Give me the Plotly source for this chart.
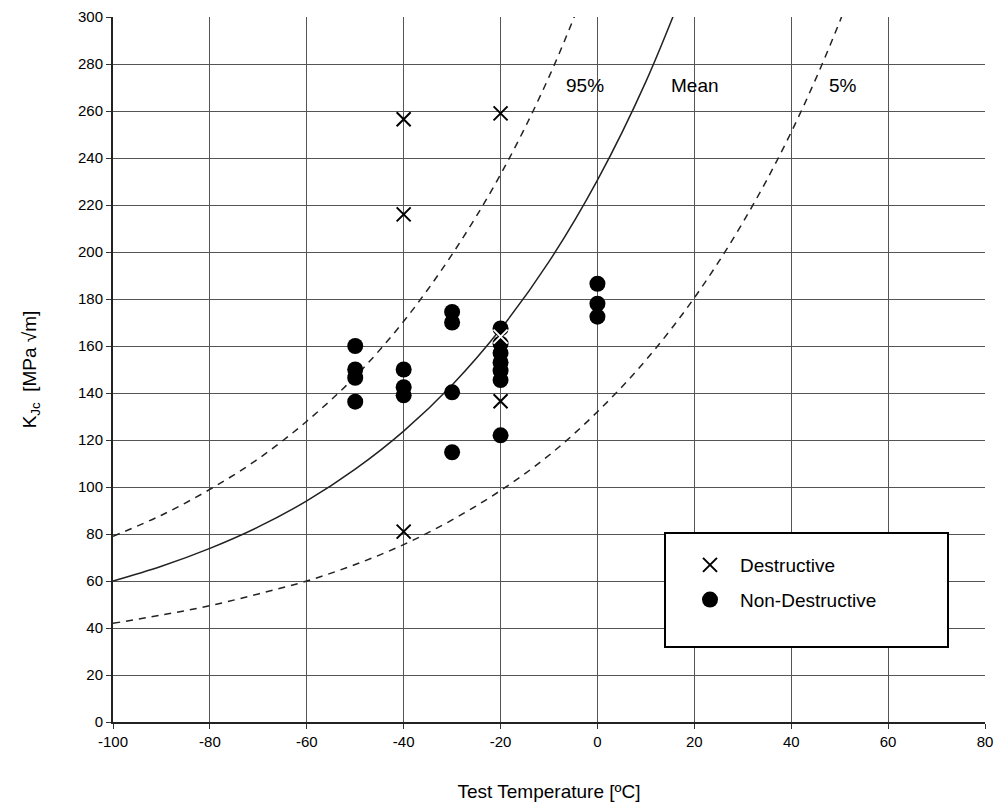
import plotly.graph_objects as go

# Curve values
curve_T = [-100, -90, -80, -70, -60, -50, -40, -30, -20, -10, 0, 10, 20, 30, 40, 50, 60]
mean_K = [60.0, 66.3, 73.9, 83.0, 94.1, 107.6, 123.8, 143.4, 167.2, 195.9, 230.6, 272.5, 323.3, None, None, None, None]
p95_K = [79.0, 88.0, 99.0, 112.0, 128.0, 147.0, 170.5, 199.0, 233.0, 274.5, 325.0, None, None, None, None, None, None]
p5_K = [42.0, 45.5, 49.5, 54.5, 60.0, 67.0, 75.5, 86.0, 98.5, 113.5, 132.0, 154.0, 180.5, 212.5, 251.0, 298.0, 355.0]

# Destructive tests
dest_T = [-40, -40, -40, -20, -20, -20]
dest_K = [256.5, 216, 81, 259, 164, 136.5]
dest_edge = ["black", "black", "black", "black", "white", "black"]

# Non-destructive tests
nd_T = [-50, -50, -50, -50, -40, -40, -40, -30, -30, -30, -30,
        -20, -20, -20, -20, -20, -20, -20, 0, 0, 0]
nd_K = [160, 150, 146.5, 136.3, 150, 142.5, 139, 174.5, 170, 140.3, 114.8,
        167.5, 161, 157, 153, 149.5, 145.5, 122, 186.5, 178, 172.5]

x_ticks = [-100, -80, -60, -40, -20, 0, 20, 40, 60, 80]
x_ticktext = ["-100", "-80", "-60", "-40", "-20", "0", "20", "40", "60", "80"]
y_ticks = list(range(0, 301, 20))

curve_labels = ["95%", "Mean", "5%"]
label_T = [-2.6, 20.1, 50.7]
label_K = [271, 271, 271]

FONT = "Liberation Sans, Arial, sans-serif"

fig = go.Figure()

def pair(xs, ys):
    px, py = [], []
    for a, b in zip(xs, ys):
        if b is not None:
            px.append(a)
            py.append(b)
    return px, py

x, y = pair(curve_T, p95_K)
fig.add_trace(go.Scatter(x=x, y=y, mode="lines", line=dict(color="#222", width=1.5, dash="7px,6px", shape="spline"),
                         showlegend=False, hoverinfo="skip"))
x, y = pair(curve_T, mean_K)
fig.add_trace(go.Scatter(x=x, y=y, mode="lines", line=dict(color="#222", width=1.5, shape="spline"),
                         showlegend=False, hoverinfo="skip"))
x, y = pair(curve_T, p5_K)
fig.add_trace(go.Scatter(x=x, y=y, mode="lines", line=dict(color="#222", width=1.5, dash="7px,6px", shape="spline"),
                         showlegend=False, hoverinfo="skip"))

fig.add_trace(go.Scatter(x=nd_T, y=nd_K, mode="markers", name="Non-Destructive",
                         legendgroup="b", legendrank=2,
                         marker=dict(symbol="circle", size=16, color="black", line=dict(width=0))))
fig.add_trace(go.Scatter(x=dest_T, y=dest_K, mode="markers", name="Destructive",
                         legendgroup="a", legendrank=1,
                         marker=dict(symbol="x-thin", size=14, color="black",
                                     line=dict(width=2, color=dest_edge))))

for t, xx, yy in zip(curve_labels, label_T, label_K):
    fig.add_annotation(x=xx, y=yy, text=t, showarrow=False,
                       font=dict(family=FONT, size=19, color="black"))

# legend box
fig.add_shape(type="rect", xref="paper", yref="paper",
              x0=(665 - 113) / 872, x1=(948 - 113) / 872,
              y0=(722 - 647) / 705, y1=(722 - 533) / 705,
              line=dict(color="black", width=2), fillcolor="white", layer="above")

fig.update_layout(
    width=1000, height=810,
    margin=dict(l=113, r=15, t=17, b=88),
    paper_bgcolor="white", plot_bgcolor="white",
    font=dict(family=FONT, color="black"),
    legend=dict(x=(680 - 113) / 872, y=(722 - 546) / 705, xanchor="left", yanchor="top",
                bgcolor="rgba(0,0,0,0)", borderwidth=0,
                font=dict(family=FONT, size=19, color="black"),
                traceorder="grouped", tracegroupgap=7, itemwidth=50),
    xaxis=dict(range=[-100, 80], tickvals=x_ticks, ticktext=x_ticktext, automargin=False,
               showgrid=True, gridcolor="#555", gridwidth=1,
               showline=True, linecolor="#222", linewidth=2,
               ticks="outside", ticklen=5, tickcolor="#333",
               tickfont=dict(family=FONT, size=15, color="black"),
               zeroline=False,
               title=dict(text="Test Temperature [ºC]", font=dict(family=FONT, size=19, color="black"), standoff=36)),
    yaxis=dict(range=[0, 300], tickvals=y_ticks, automargin=False,
               showgrid=True, gridcolor="#555", gridwidth=1,
               showline=True, linecolor="#222", linewidth=2,
               ticks="outside", ticklen=5, tickcolor="#333",
               tickfont=dict(family=FONT, size=15, color="black"),
               zeroline=False,
               title=dict(text="K<sub>Jc</sub>  [MPa √m]", font=dict(family=FONT, size=19, color="black"), standoff=36)),
)

fig.write_html("out.html")
